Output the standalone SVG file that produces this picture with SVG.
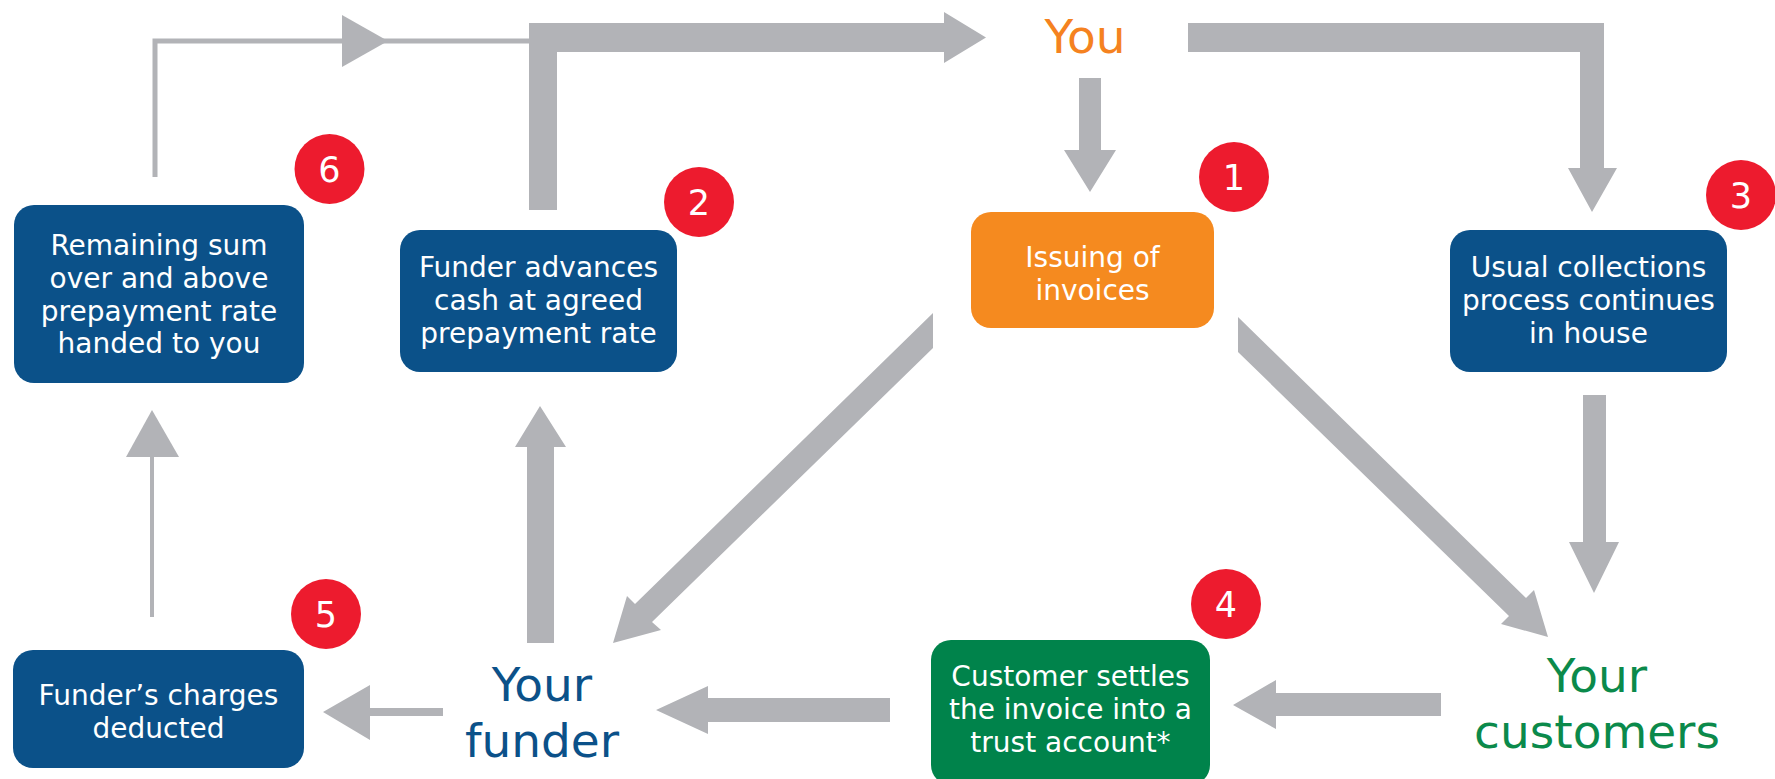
<svg xmlns="http://www.w3.org/2000/svg" width="1775" height="779" viewBox="0 0 1775 779">
<style>
.box{stroke:none}
.blue{fill:#0B5189}
.orange{fill:#F58A1F}
.green{fill:#00834B}
.bt{font-family:"DejaVu Sans","Liberation Sans",sans-serif;font-size:28px;fill:#FFFFFF;text-anchor:middle}
.badge{fill:#ED1B2E}
.bn{font-family:"DejaVu Sans","Liberation Sans",sans-serif;font-size:35px;fill:#FFFFFF;text-anchor:middle}
.big{font-family:"DejaVu Sans","Liberation Sans",sans-serif;font-size:47px;text-anchor:middle}
.arr{fill:#B2B3B7;stroke:none}
.thin{fill:none;stroke:#B2B3B7}
</style>
<rect x="0" y="0" width="1775" height="779" fill="#FFFFFF"/>
<g id="connectors">
  <!-- thin line from box 6 up and across to the thick bar -->
  <polyline class="thin" stroke-width="5" points="155,177 155,41 531,41"/>
  <polygon class="arr" points="342,15 388,41 342,67"/>
  <!-- box 2 up to You (thick) -->
  <polygon class="arr" points="529,210 529,23 944,23 944,12 986,37.5 944,63 944,52 557,52 557,210"/>
  <!-- You down to box 1 -->
  <polygon class="arr" points="1079,78 1101,78 1101,150 1116,150 1090,192 1064,150 1079,150"/>
  <!-- You across and down to box 3 -->
  <polygon class="arr" points="1188,23 1604,23 1604,168 1617,168 1592,212 1568,168 1580,168 1580,52 1188,52"/>
  <!-- box 3 down to customers -->
  <polygon class="arr" points="1583,395 1606,395 1606,542 1619,542 1594,593 1569,542 1583,542"/>
  <!-- box 1 diagonal to customers -->
  <polygon class="arr" points="1238,317 1526,598 1534,590 1548,637 1501,624 1509,616 1238,352"/>
  <!-- box 1 diagonal to funder -->
  <polygon class="arr" points="933,313 635,604 627,596 613,643 661,630 652,622 933,348"/>
  <!-- customers to box 4 -->
  <polygon class="arr" points="1441,693 1441,716 1276,716 1276,729 1233,705 1276,680 1276,693"/>
  <!-- box 4 to funder -->
  <polygon class="arr" points="890,698 890,722 708,722 708,734 656,710 708,686 708,698"/>
  <!-- funder to box 5 -->
  <polygon class="arr" points="443,708 443,716 370,716 370,740 323,712 370,685 370,708"/>
  <!-- funder up to box 2 -->
  <polygon class="arr" points="527,643 527,447 515,447 540,406 566,447 554,447 554,643"/>
  <!-- box 5 up to box 6 (thin) -->
  <line class="thin" stroke-width="4" x1="152" y1="617" x2="152" y2="455"/>
  <polygon class="arr" points="126,457 179,457 152,410"/>
</g>
<g id="node-you">
  <text class="big" x="1085" y="53" font-size="45" fill="#F58220">You</text>
</g>
<g id="node-issuing">
  <rect class="box orange" x="971" y="212" width="243" height="116" rx="20"/>
  <text class="bt"><tspan x="1092.5" y="267">Issuing of</tspan><tspan x="1092.5" y="300">invoices</tspan></text>
</g>
<g id="badge-1">
  <circle class="badge" cx="1234" cy="177" r="35"/>
  <text class="bn" x="1234" y="190">1</text>
</g>
<g id="node-funder-advances">
  <rect class="box blue" x="400" y="230" width="277" height="142" rx="20"/>
  <text class="bt"><tspan x="538.5" y="277">Funder advances</tspan><tspan x="538.5" y="310">cash at agreed</tspan><tspan x="538.5" y="343">prepayment rate</tspan></text>
</g>
<g id="badge-2">
  <circle class="badge" cx="699" cy="202" r="35"/>
  <text class="bn" x="699" y="215">2</text>
</g>
<g id="node-usual-collections">
  <rect class="box blue" x="1450" y="230" width="277" height="142" rx="20"/>
  <text class="bt"><tspan x="1588.5" y="277">Usual collections</tspan><tspan x="1588.5" y="310">process continues</tspan><tspan x="1588.5" y="343">in house</tspan></text>
</g>
<g id="badge-3">
  <circle class="badge" cx="1741" cy="195" r="35"/>
  <text class="bn" x="1741" y="208">3</text>
</g>
<g id="node-remaining-sum">
  <rect class="box blue" x="14" y="205" width="290" height="178" rx="20"/>
  <text class="bt"><tspan x="159" y="255">Remaining sum</tspan><tspan x="159" y="288">over and above</tspan><tspan x="159" y="321">prepayment rate</tspan><tspan x="159" y="353">handed to you</tspan></text>
</g>
<g id="badge-6">
  <circle class="badge" cx="329.5" cy="169" r="35"/>
  <text class="bn" x="329.5" y="182">6</text>
</g>
<g id="node-charges">
  <rect class="box blue" x="13" y="650" width="291" height="118" rx="20"/>
  <text class="bt"><tspan x="158.5" y="705">Funder’s charges</tspan><tspan x="158.5" y="738">deducted</tspan></text>
</g>
<g id="badge-5">
  <circle class="badge" cx="326" cy="614" r="35"/>
  <text class="bn" x="326" y="627">5</text>
</g>
<g id="node-settles">
  <rect class="box green" x="931" y="640" width="279" height="145" rx="20"/>
  <text class="bt"><tspan x="1070.5" y="686">Customer settles</tspan><tspan x="1070.5" y="719">the invoice into a</tspan><tspan x="1070.5" y="752">trust account*</tspan></text>
</g>
<g id="badge-4">
  <circle class="badge" cx="1226" cy="604" r="35"/>
  <text class="bn" x="1226" y="617">4</text>
</g>
<g id="node-your-funder">
  <text class="big" fill="#0B5189"><tspan x="542" y="701">Your</tspan><tspan x="542" y="757">funder</tspan></text>
</g>
<g id="node-your-customers">
  <text class="big" fill="#0B8A4B"><tspan x="1597" y="692">Your</tspan><tspan x="1597" y="748">customers</tspan></text>
</g>
</svg>
